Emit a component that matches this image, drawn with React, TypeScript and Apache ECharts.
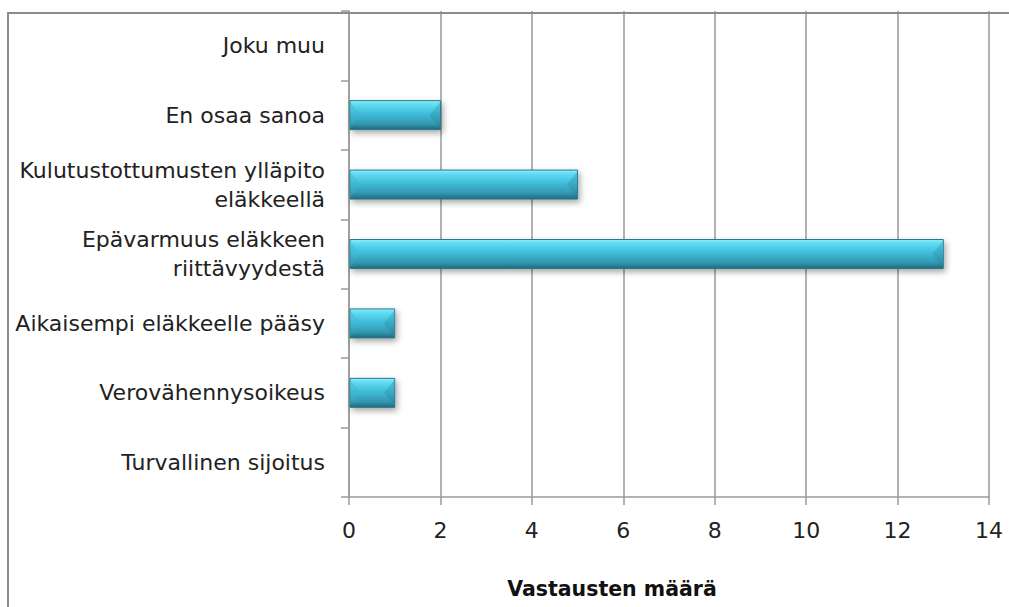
import React, { useEffect, useRef } from "react";
import * as echarts from "echarts";

const categories = [
  "Turvallinen sijoitus",
  "Verovähennysoikeus",
  "Aikaisempi eläkkeelle pääsy",
  "Epävarmuus eläkkeen\nriittävyydestä",
  "Kulutustottumusten ylläpito\neläkkeellä",
  "En osaa sanoa",
  "Joku muu",
];
const values = [0, 1, 1, 13, 5, 2, 0];
const xTicks = { min: 0, max: 14, interval: 2 };
const axisTitle = "Vastausten määrä";

export default function App() {
  const ref = useRef<HTMLDivElement>(null);
  useEffect(() => {
    if (!ref.current) return;
    const chart = echarts.init(ref.current, undefined, { renderer: "svg" });
    const font = "'DejaVu Sans', sans-serif";
    const axisColor = "#9a9a9a";
    const barH = 29;
    const bevel = 11;
    chart.setOption({
      animation: false,
      backgroundColor: "#ffffff",
      grid: { left: 349, right: 20, top: 11, bottom: 110, containLabel: false },
      xAxis: {
        type: "value",
        min: xTicks.min,
        max: xTicks.max,
        interval: xTicks.interval,
        axisLine: { show: true, lineStyle: { color: axisColor, width: 1.5 } },
        axisTick: { show: true, length: 8, lineStyle: { color: axisColor, width: 1.5 } },
        splitLine: { show: true, lineStyle: { color: axisColor, width: 1.5 } },
        axisLabel: { fontFamily: font, fontSize: 22, color: "#222", margin: 22 },
      },
      yAxis: {
        type: "category",
        data: categories,
        axisLine: { show: true, lineStyle: { color: axisColor, width: 1.5 } },
        axisTick: { show: true, length: 8, lineStyle: { color: axisColor, width: 1.5 } },
        axisLabel: {
          fontFamily: font,
          fontSize: 22,
          color: "#222",
          margin: 24,
          lineHeight: 29,
          align: "right",
        },
      },
      series: [
        {
          type: "custom",
          data: values.map((v, i) => [v, i]),
          encode: { x: 0, y: 1 },
          renderItem: (params: any, api: any) => {
            const v = api.value(0);
            const idx = api.value(1);
            if (!v) return null;
            const p0 = api.coord([0, idx]);
            const p1 = api.coord([v, idx]);
            const x0 = p0[0] + 1;
            const x1 = p1[0];
            const y0 = p0[1] - barH / 2;
            const y1 = p0[1] + barH / 2;
            const yc = p0[1];
            const w = x1 - x0;
            const b = Math.min(bevel, w / 3);
            return {
              type: "group",
              children: [
                {
                  type: "rect",
                  shape: { x: x0, y: y0, width: w, height: barH },
                  style: {
                    fill: new echarts.graphic.LinearGradient(0, 0, 0, 1, [
                      { offset: 0, color: "#8ff3ff" },
                      { offset: 0.1, color: "#68def5" },
                      { offset: 0.4, color: "#42c2df" },
                      { offset: 0.8, color: "#3297b2" },
                      { offset: 1, color: "#246879" },
                    ]),
                    stroke: "#2b788c",
                    lineWidth: 1,
                    shadowColor: "rgba(0,0,0,0.35)",
                    shadowBlur: 6,
                    shadowOffsetX: 2,
                    shadowOffsetY: 3,
                  },
                },
                {
                  type: "polygon",
                  shape: { points: [[x0 + 0.5, y0 + 2], [x0 + b, yc], [x0 + 0.5, y1 - 2]] },
                  style: {
                    fill: new echarts.graphic.LinearGradient(0, 0, 0, 1, [
                      { offset: 0, color: "#56cfe8" },
                      { offset: 0.5, color: "#3db8d4" },
                      { offset: 1, color: "#3093ac" },
                    ]),
                  },
                },
                {
                  type: "polygon",
                  shape: { points: [[x1 - 0.5, y0 + 2], [x1 - b, yc], [x1 - 0.5, y1 - 2]] },
                  style: {
                    fill: new echarts.graphic.LinearGradient(0, 0, 0, 1, [
                      { offset: 0, color: "#4cc6e0" },
                      { offset: 0.5, color: "#38a8c2" },
                      { offset: 1, color: "#2b8096" },
                    ]),
                  },
                },
              ],
            };
          },
        },
      ],
      graphic: [
        {
          type: "rect",
          shape: { x: 8, y: 13, width: 1100, height: 700 },
          style: { fill: "none", stroke: "#8c8c8c", lineWidth: 2 },
          silent: true,
          z: 100,
        },
        {
          type: "text",
          x: 612,
          y: 589,
          style: {
            text: axisTitle,
            fontFamily: font,
            fontSize: 20.5,
            fontWeight: "bold",
            fill: "#111",
            textAlign: "center",
            textVerticalAlign: "middle",
          },
        },
      ],
    });
    return () => chart.dispose();
  }, []);
  return <div ref={ref} style={{ width: 1009, height: 607, position: "absolute", left: 0, top: 0 }} />;
}
